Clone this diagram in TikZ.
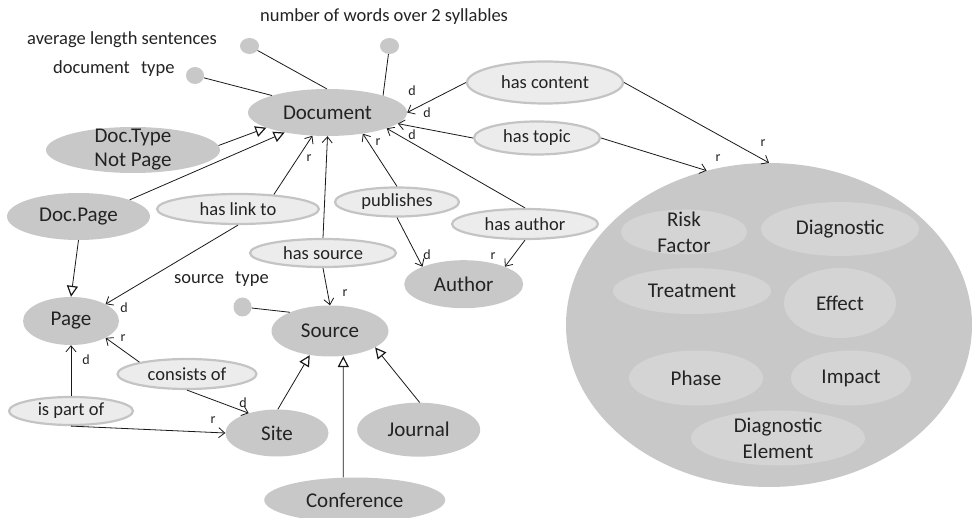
\documentclass[tikz,border=0pt]{standalone}
\usepackage{fontspec}
\setmainfont{Carlito}
\usetikzlibrary{arrows.meta,shapes.geometric}
\definecolor{clsfill}{RGB}{200,200,200}
\definecolor{subfill}{RGB}{212,212,212}
\definecolor{propfill}{RGB}{236,236,236}
\definecolor{propline}{RGB}{196,196,196}
\definecolor{ink}{RGB}{35,35,35}
\definecolor{wire}{RGB}{25,25,25}

\begin{document}
\begin{tikzpicture}[x=1pt,y=-1pt,
  cls/.style={ellipse, fill=clsfill, inner sep=0pt, text=ink,
    font=\fontsize{21}{24}\selectfont, align=center},
  sub/.style={ellipse, fill=subfill, inner sep=0pt, text=ink,
    font=\fontsize{21}{26}\selectfont, align=center},
  prop/.style={ellipse, fill=propfill, draw=propline, line width=2.2pt,
    inner sep=0pt, text=ink, font=\fontsize{18.5}{22}\selectfont},
  attr/.style={ellipse, fill=clsfill, inner sep=0pt},
  attrtext/.style={text=ink, font=\fontsize{18.5}{22}\selectfont,
    anchor=base west, inner sep=0pt},
  role/.style={text=ink, font=\fontsize{14}{16}\selectfont, inner sep=0pt},
  rel/.style={draw=wire, line width=0.8pt,
    -{Straight Barb[length=6pt,width=10pt]}},
  isa/.style={draw=wire, line width=0.8pt,
    -{Triangle[length=11pt,width=11pt,fill=white,line width=1.2pt]}},
  plain/.style={draw=wire, line width=0.8pt},
  sz/.style 2 args={minimum width=#1pt, minimum height=#2pt}
]
\useasboundingbox (0,0) rectangle (972,518);

% classes
\node[cls, sz={159}{47}] (doc) at (327.5,112.5) {Document};
\node[cls, sz={174}{46}, inner ysep=-12pt] (dtnp) at (133,150) {Doc.Type\\Not Page};
\node[cls, sz={143}{47}] (docpage) at (78.5,216.5) {Doc.Page};
\node[cls, sz={96}{48}] (page) at (71,321) {Page};
\node[cls, sz={117}{51}] (source) at (330,331) {Source};
\node[cls, sz={103}{47}] (site) at (277,433) {Site};
\node[cls, sz={123}{54}] (journal) at (418.7,429.7) {Journal};
\node[cls, sz={181}{45}] (conf) at (354.7,500) {Conference};
\node[cls, sz={119}{48}] (author) at (463.7,284.2) {Author};

% content domain
\node[cls, sz={406}{324}] (domain) at (769,325) {};
\node[sub, sz={126}{45}, inner ysep=-12pt] (risk) at (684,232) {Risk\\Factor};
\node[sub, sz={158}{54}] (diag) at (840,229) {Diagnostic};
\node[sub, sz={158}{46}] (treat) at (692,291) {Treatment};
\node[sub, sz={112}{70}] (effect) at (840,303) {Effect};
\node[sub, sz={134}{55}] (phase) at (696,378) {Phase};
\node[sub, sz={120}{55}] (impact) at (851,378) {Impact};
\node[sub, sz={174}{55}, inner ysep=-12pt] (diagel) at (778,438) {Diagnostic\\Element};

% properties
\node[prop, sz={156}{42}] (hascontent) at (545,82.5) {has content};
\node[prop, sz={126}{33}] (hastopic) at (537,138) {has topic};
\node[prop, sz={162}{30}] (haslink) at (238,209) {has link to};
\node[prop, sz={124}{29}] (publishes) at (397,202) {publishes};
\node[prop, sz={146}{30}] (hasauthor) at (525,224) {has author};
\node[prop, sz={146}{28}] (hassource) at (323,253) {has source};
\node[prop, sz={139}{30}] (consists) at (187,374) {consists of};
\node[prop, sz={124}{28}] (ispartof) at (71,411) {is part of};

% attributes
\node[attr, sz={19}{16}] (avgdot) at (249.5,46) {};
\node[attr, sz={19}{16}] (wordsdot) at (389.5,46) {};
\node[attr, sz={18}{17}] (typedot) at (195,75.5) {};
\node[attr, sz={18}{19}] (srcdot) at (242.5,307) {};
\node[attrtext] (avgtext) at (27,45) {average length sentences};
\node[attrtext] (typetext) at (53,74) {document\hspace{0.6em}type};
\node[attrtext] (wordstext) at (260,22) {number of words over 2 syllables};
\node[attrtext] (srctext) at (174,284) {source\hspace{0.6em}type};

\draw[plain] (avgdot) -- (doc.92);
\draw[plain] (wordsdot) -- (doc.17);
\draw[plain] (typedot) -- (doc.163);
\draw[plain] (srcdot) -- (source.155);

% subclass links
\draw[isa] (dtnp.3) -- (doc.194);
\draw[isa] (docpage.18) -- (doc.205);
\draw[isa] (docpage.south) -- (page.north);
\draw[isa] (site.88) -- (source.230);
\draw[isa] (conf.117) -- (source.298);
\draw[isa] (journal.88) -- (source.340);

% property links
\draw[rel] (haslink.22) -- (doc.237);
\draw[rel] (hassource.north) -- (doc.270);
\draw[rel] (publishes.north) -- (doc.329);
\draw[rel] (hasauthor.north) -- (doc.345);
\draw[rel] (hastopic.west) -- (doc.351);
\draw[rel] (hascontent.west) -- (doc.east);
\draw[rel] (hascontent.east) -- (domain.north);
\draw[rel] (hastopic.east) -- (domain.112);
\draw[rel] (haslink.south) -- (page.26);
\draw[rel] (hassource.south) -- (source.north);
\draw[rel] (publishes.south) -- (author.157);
\draw[rel] (hasauthor.south) -- (author.23);
\draw[rel] (consists.166) -- (page.334);
\draw[rel] (consists.south) -- (site.145);
\draw[rel] (ispartof.north) -- (page.south);
\draw[rel] (ispartof.south) -- (site.west);

% domain / range marks
\node[role] (d1) at (412,91) {d};
\node[role] (d2) at (427,113) {d};
\node[role] (d3) at (412,135) {d};
\node[role] (r1) at (309,158) {r};
\node[role] (r2) at (378,142) {r};
\node[role] (d4) at (124,308) {d};
\node[role] (r3) at (123,338) {r};
\node[role] (d5) at (86,360) {d};
\node[role] (d6) at (243,403) {d};
\node[role] (r4) at (213,420) {r};
\node[role] (r5) at (345,293) {r};
\node[role] (d7) at (427,255) {d};
\node[role] (r6) at (493,256) {r};
\node[role] (r7) at (763,143) {r};
\node[role] (r8) at (718,158) {r};
\end{tikzpicture}
\end{document}
